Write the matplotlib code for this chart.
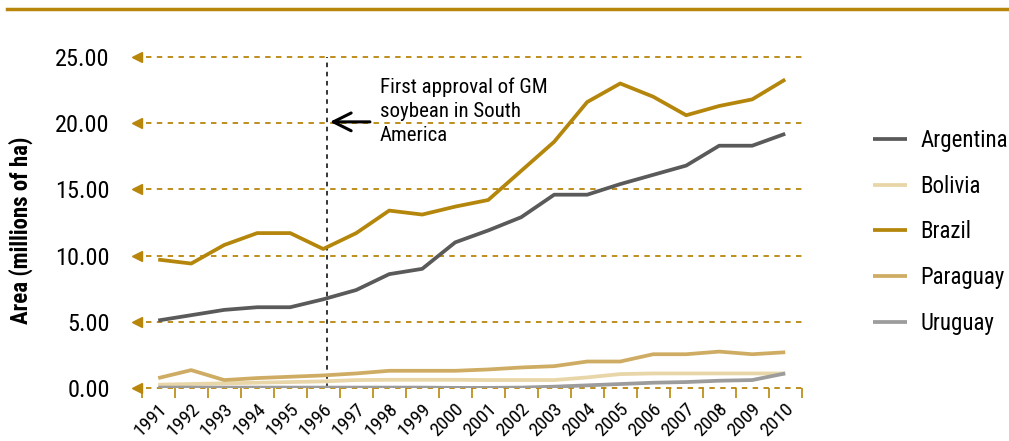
import matplotlib
matplotlib.use("Agg")
import matplotlib.pyplot as plt
from matplotlib.lines import Line2D
from matplotlib.transforms import ScaledTranslation
import numpy as np

plt.rcParams['font.family'] = ['Roboto Condensed', 'Sofia Sans Condensed', 'IBM Plex Sans Condensed', 'DejaVu Sans']

years = list(range(1991, 2011))
argentina = [5.1, 5.5, 5.9, 6.1, 6.1, 6.7, 7.4, 8.6, 9.0, 11.0, 11.9, 12.9, 14.6, 14.6, 15.4, 16.1, 16.8, 18.3, 18.3, 19.2]
bolivia = [0.25, 0.3, 0.35, 0.4, 0.45, 0.5, 0.6, 0.62, 0.62, 0.62, 0.6, 0.6, 0.6, 0.8, 1.05, 1.1, 1.1, 1.1, 1.1, 1.1]
brazil = [9.7, 9.4, 10.8, 11.7, 11.7, 10.5, 11.7, 13.4, 13.1, 13.7, 14.2, 16.4, 18.6, 21.6, 23.0, 22.0, 20.6, 21.3, 21.8, 23.3]
paraguay = [0.75, 1.35, 0.6, 0.75, 0.85, 0.95, 1.1, 1.3, 1.3, 1.3, 1.4, 1.55, 1.65, 2.0, 2.0, 2.55, 2.55, 2.75, 2.55, 2.7]
uruguay = [0.03, 0.03, 0.03, 0.03, 0.03, 0.03, 0.03, 0.03, 0.03, 0.01, 0.01, 0.03, 0.1, 0.2, 0.3, 0.4, 0.45, 0.55, 0.6, 1.1]
series_names = ['Argentina', 'Bolivia', 'Brazil', 'Paraguay', 'Uruguay']
series_values = [argentina, bolivia, brazil, paraguay, uruguay]
colors = ['#5a5a5a', '#e8d6a8', '#b5860c', '#cfac63', '#9c9c9c']
yticks = [0, 5, 10, 15, 20, 25]
ytick_labels = ['0.00', '5.00', '10.00', '15.00', '20.00', '25.00']
gm_year = 1996
annot_text = "First approval of GM\nsoybean in South\nAmerica"

gold = '#b8860b'
W, H = 1009, 441
fig = plt.figure(figsize=(W / 100, H / 100), dpi=100)
ax = fig.add_axes([141.7 / W, 1 - 388 / H, 660 / W, 331 / H])
ax.set_xlim(1990.5, 2010.5)
ax.set_ylim(0, 25)
for s in ax.spines.values():
    s.set_visible(False)

# gridlines with arrow markers
for yv in yticks:
    ax.plot([1990.62, 2010.5], [yv, yv], ls=(0, (3, 3)), color=gold, lw=1.3, clip_on=False, zorder=1)
    ax.plot([1990.35], [yv], marker='<', color=gold, ms=7, clip_on=False, zorder=1)

# vertical marker
ax.plot([gm_year + 0.1, gm_year + 0.1], [0, 25], ls=(0, (3, 3)), color='black', lw=1.1, zorder=2)
ax.annotate('', xy=(gm_year + 0.12, 20.1), xytext=(gm_year + 1.5, 20.1),
            arrowprops=dict(arrowstyle='->', lw=2.2, color='black', mutation_scale=32), zorder=5)
ax.text(gm_year + 1.72, 23.45, annot_text, fontsize=15, va='top', ha='left', linespacing=1.32)

handles = []
for name, vals, c in zip(series_names, series_values, colors):
    h, = ax.plot(years, vals, color=c, lw=2.7, label=name, zorder=3, solid_capstyle='butt')
    handles.append(h)

ax.set_yticks(yticks)
ax.set_yticklabels(ytick_labels, fontsize=17.5)
ax.tick_params(axis='y', length=0, pad=23)

ax.set_xticks(years)
ax.set_xticklabels([str(y) for y in years], fontsize=14, rotation=45, ha='right', va='center',
                   rotation_mode='anchor')
ax.tick_params(axis='x', which='major', length=0, pad=13)
off = ScaledTranslation(0.06, 0, fig.dpi_scale_trans)
for lab in ax.get_xticklabels():
    lab.set_transform(lab.get_transform() + off)
ax.set_xticks(np.arange(1990.5, 2011, 1.0), minor=True)
ax.tick_params(axis='x', which='minor', length=7, width=1.2, color=gold, direction='out')

ax.set_ylabel('Area (millions of ha)', fontsize=16.5, fontweight='bold')
ax.yaxis.set_label_coords(-0.165, 0.477)

leg = fig.legend(handles=handles, labels=series_names, loc='center left',
                 bbox_to_anchor=(852 / W, 1 - 232 / H), frameon=False, fontsize=16.5,
                 handlelength=1.5, handletextpad=0.6, labelspacing=1.0)

fig.add_artist(Line2D([7 / W, 1], [1 - 9 / H, 1 - 9 / H], color=gold, lw=2.5))

fig.savefig('out.png', dpi=100)
